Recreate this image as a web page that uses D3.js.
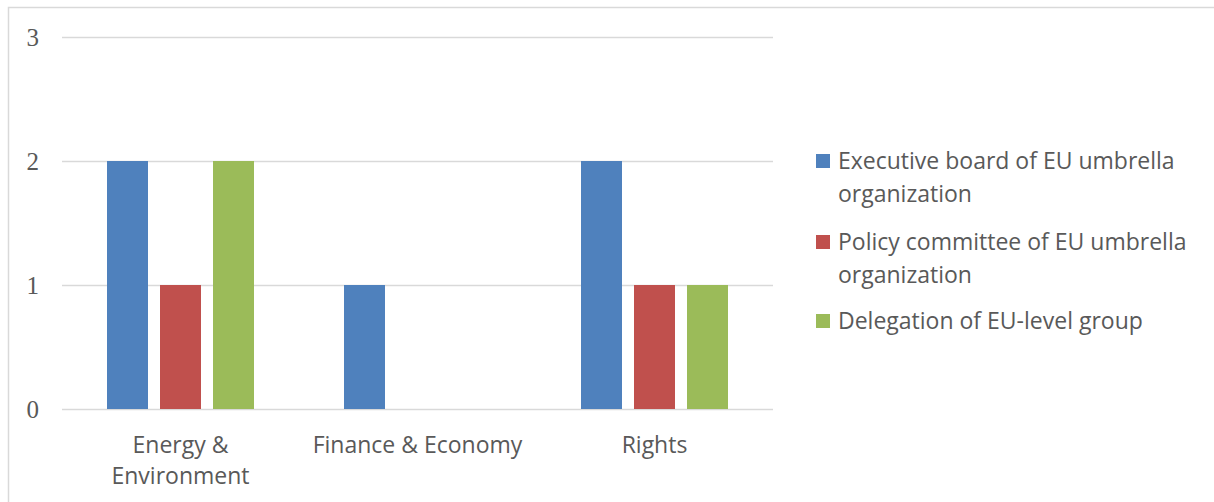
<!DOCTYPE html>
<html>
<head>
<meta charset="utf-8">
<script src="https://cdn.jsdelivr.net/npm/d3@7"></script>
<style>
  html, body { margin: 0; padding: 0; background: #fff; }
  svg { display: block; }
</style>
</head>
<body>
<div id="chart"></div>
<script>
// chart values
const categories = ['Energy & Environment', 'Finance & Economy', 'Rights'];
const seriesNames = [
  'Executive board of EU umbrella organization',
  'Policy committee of EU umbrella organization',
  'Delegation of EU-level group'
];
const executiveBoard = [2, 1, 2];
const policyCommittee = [1, 0, 1];
const delegation = [2, 0, 1];
const yTicks = [0, 1, 2, 3];
const colors = ['#4F81BD', '#C0504D', '#9BBB59'];

const W = 1214, H = 502;
const plot = {left: 62, right: 773, top: 37, bottom: 409};
const textColor = '#595959';
const sansFont = "'Open Sans', sans-serif";

const svg = d3.select('#chart').append('svg')
  .attr('width', W)
  .attr('height', H);

// outer frame
svg.append('rect')
  .attr('x', 8.5).attr('y', 7.5)
  .attr('width', W + 10).attr('height', H + 10)
  .attr('fill', 'none')
  .attr('stroke', '#D9D9D9')
  .attr('stroke-width', 1.5);

const seriesValues = [executiveBoard, policyCommittee, delegation];

// scales
const y = d3.scaleLinear().domain([0, 3]).range([plot.bottom, plot.top]);
const x0 = d3.scaleBand().domain(categories).range([plot.left, plot.right]).padding(0);
const groupWidth = 147;
const x1 = d3.scaleBand().domain(seriesNames).range([0, groupWidth]).paddingInner(12 / 53).paddingOuter(0);

// gridlines
svg.append('g')
  .selectAll('line')
  .data(yTicks)
  .enter()
  .append('line')
  .attr('x1', plot.left).attr('x2', plot.right)
  .attr('y1', d => Math.round(y(d)) + 0.5)
  .attr('y2', d => Math.round(y(d)) + 0.5)
  .attr('stroke', '#D9D9D9')
  .attr('stroke-width', 1.5);

// y axis
const yAxis = svg.append('g')
  .attr('transform', `translate(${plot.left},0)`)
  .call(d3.axisLeft(y).tickValues(yTicks).tickSize(0).tickPadding(23).tickFormat(d3.format('d')));
yAxis.select('.domain').remove();
yAxis.selectAll('text')
  .attr('fill', textColor)
  .style('font-family', "'Liberation Serif', 'Times New Roman', serif")
  .style('font-size', '25px');

// bars
const groups = svg.append('g')
  .selectAll('g')
  .data(categories)
  .enter()
  .append('g')
  .attr('transform', d => `translate(${x0(d) + (x0.bandwidth() - groupWidth) / 2},0)`);

groups.selectAll('rect')
  .data((d, i) => seriesNames.map((s, j) => ({series: s, value: seriesValues[j][i], color: colors[j]})))
  .enter()
  .filter(d => d.value > 0)
  .append('rect')
  .attr('x', d => x1(d.series))
  .attr('y', d => y(d.value))
  .attr('width', x1.bandwidth())
  .attr('height', d => y(0) - y(d.value))
  .attr('fill', d => d.color);

// wrap helper
function wrap(textSel, maxWidth, lineHeight) {
  textSel.each(function() {
    const text = d3.select(this);
    const words = text.text().split(/\s+/);
    const xPos = text.attr('x');
    text.text(null);
    let line = [];
    let tspan = text.append('tspan').attr('x', xPos).attr('dy', 0);
    let lineNo = 0;
    words.forEach(w => {
      line.push(w);
      tspan.text(line.join(' '));
      if (tspan.node().getComputedTextLength() > maxWidth && line.length > 1) {
        line.pop();
        tspan.text(line.join(' '));
        line = [w];
        lineNo++;
        tspan = text.append('tspan').attr('x', xPos).attr('dy', lineHeight).text(w);
      }
    });
  });
}

// x axis labels
const xAxis = svg.append('g')
  .attr('transform', `translate(0,${plot.bottom})`)
  .call(d3.axisBottom(x0).tickSize(0).tickPadding(0));
xAxis.select('.domain').remove();
xAxis.selectAll('text')
  .attr('y', 44)
  .attr('dy', 0)
  .attr('x', 0)
  .attr('fill', textColor)
  .style('font-family', sansFont)
  .style('font-size', '23px')
  .call(wrap, 222, 31);

// legend
const legend = svg.append('g');
const legendTop = [169, 250, 329];
seriesNames.forEach((name, i) => {
  const g = legend.append('g');
  g.append('rect')
    .attr('x', 816).attr('y', legendTop[i] - 15)
    .attr('width', 14).attr('height', 14)
    .attr('fill', colors[i]);
  g.append('text')
    .attr('x', 838).attr('y', legendTop[i])
    .attr('fill', textColor)
    .style('font-family', sansFont)
    .style('font-size', '23px')
    .text(name)
    .call(wrap, 365, 33);
});
</script>
</body>
</html>
